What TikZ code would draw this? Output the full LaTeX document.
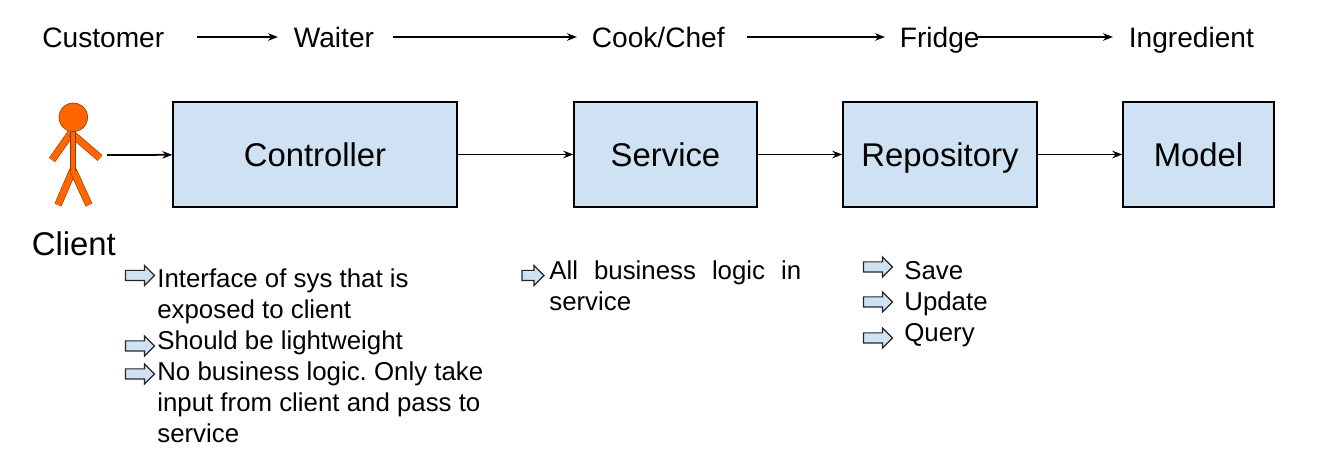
\documentclass[tikz,border=0pt]{standalone}
\usepackage{fontspec}
\setmainfont{Liberation Sans}
\usetikzlibrary{shapes.arrows,arrows.meta}
\definecolor{boxblue}{HTML}{CFE2F3}
\definecolor{manorange}{HTML}{FF6600}
\definecolor{mandark}{HTML}{8A3A00}
\tikzset{
    layer/.style={draw, line width=0.028cm, fill=boxblue, inner sep=0, minimum height=2.1cm, text height=0.62cm, text depth=0.12cm, font=\fontsize{18.7}{22}\selectfont},
    head/.style={inner sep=0, anchor=base west, font=\fontsize{16}{19}\selectfont},
    note/.style={inner sep=0, anchor=north west, align=left, font=\fontsize{14.7}{17.75}\selectfont},
    flow/.style={-{Stealth[length=0.2cm,width=0.15cm]}, line width=0.035cm},
    tick/.style={single arrow, draw=black!85, line width=0.024cm, fill=boxblue, inner sep=0, text height=0.18cm, text depth=0cm, minimum height=0.58cm, single arrow head extend=0.1cm, single arrow tip angle=90},
    limb/.style={draw=mandark, line width=0.012cm, double=manorange, double distance=0.125cm}
}
\frenchspacing
\begin{document}
\begin{tikzpicture}[x=0.02cm,y=-0.02cm]
    \useasboundingbox (0,0) rectangle (1320,462);

    % analogy row
    \node[head] (customer) at (42,47.5) {Customer};
    \node[head] (waiter) at (293.5,47.5) {Waiter};
    \node[head] (cook) at (591.5,47.5) {Cook/Chef};
    \node[head] (fridge) at (899.5,47.5) {Fridge};
    \node[head] (ingredient) at (1128.5,47.5) {Ingredient};

    \coordinate (a1) at (197,37);
    \coordinate (a2) at (278,37);
    \coordinate (b1) at (393,37);
    \coordinate (b2) at (577,37);
    \coordinate (c1) at (747,37);
    \coordinate (c2) at (885,37);
    \coordinate (d1) at (978,37);
    \coordinate (d2) at (1113,37);
    \draw[flow] (a1) -- (a2);
    \draw[flow] (b1) -- (b2);
    \draw[flow] (c1) -- (c2);
    \draw[flow] (d1) -- (d2);

    % layers
    \node[layer, minimum width=5.68cm] (controller) at (315,154.5) {Controller};
    \node[layer, minimum width=3.66cm] (service) at (665.5,154.5) {Service};
    \node[layer, minimum width=3.88cm] (repository) at (940,154.5) {Repository};
    \node[layer, minimum width=3.02cm] (model) at (1198.5,154.5) {Model};

    \coordinate (hand) at (107,155);
    \draw[flow] (hand) -- (controller);
    \draw[flow] (controller) -- (service);
    \draw[flow] (service) -- (repository);
    \draw[flow] (repository) -- (model);

    % stick man
    \draw[limb] (71,133) -- (52,160);
    \draw[limb] (71,133) -- (100,158);
    \draw[limb] (73,170) -- (58,205);
    \draw[limb] (73,170) -- (89,205);
    \draw[draw=mandark, line width=0.012cm, double=manorange, double distance=0.09cm] (73,130) -- (73,171);
    \draw[draw=mandark, line width=0.012cm, fill=manorange] (73.3,117.3) circle (14.3);
    \node[inner sep=0, anchor=base west, font=\fontsize{18.7}{22}\selectfont] (client) at (31.5,256) {Client};

    % notes
    \node[tick] (t1) at (137.5,275.5) {};
    \node[tick] (t2) at (137.5,346) {};
    \node[tick] (t3) at (137.5,374) {};
    \node[note] (n1) at (157,268) {Interface of sys that is\\exposed to client\\Should be lightweight\\No business logic. Only take\\input from client and pass to\\service};

    \node[tick, minimum height=0.44cm] (t4) at (530.5,275.5) {};
    \node[note, text width=5.04cm, align=justify] (n2) at (549,260) {All business logic in service};

    \node[tick] (t5) at (875.5,267) {};
    \node[tick] (t6) at (875.5,302) {};
    \node[tick] (t7) at (875.5,338) {};
    \node[note] (n3) at (904,261) {Save\\Update\\Query};
\end{tikzpicture}
\end{document}
